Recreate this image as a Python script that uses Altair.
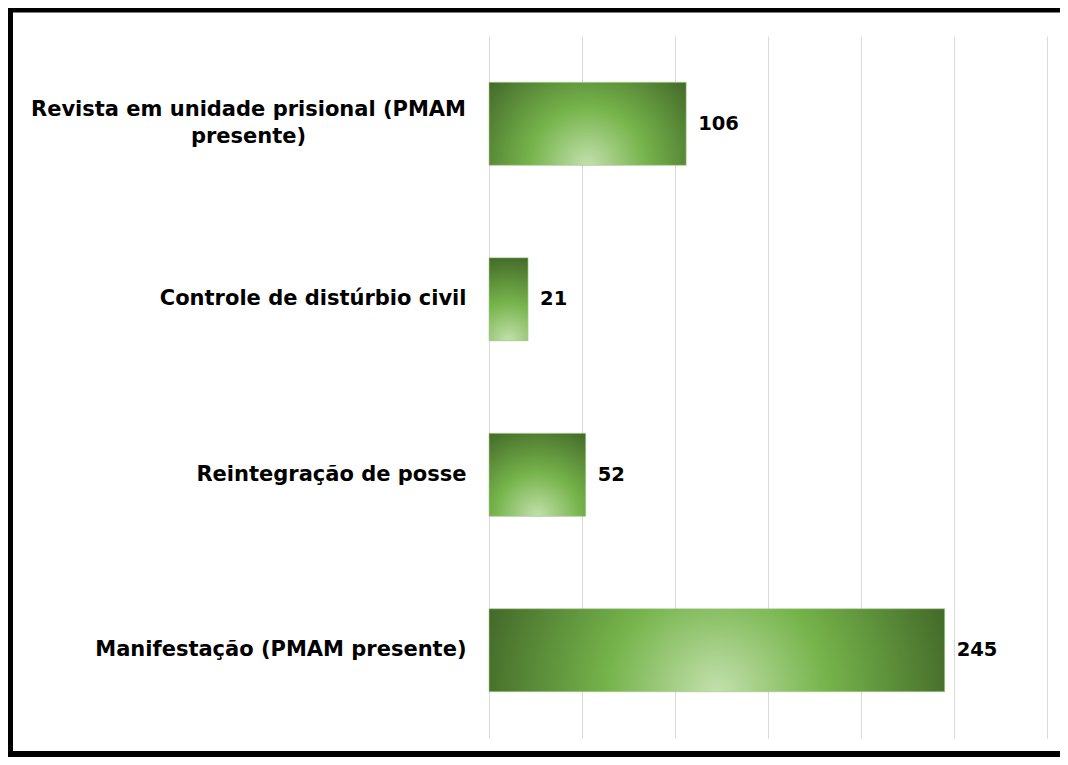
import math
import altair as alt
import pandas as pd

categories = [
    "Revista em unidade prisional (PMAM presente)",
    "Controle de distúrbio civil",
    "Reintegração de posse",
    "Manifestação (PMAM presente)",
]
values = [106, 21, 52, 245]
grid_values = [0, 50, 100, 150, 200, 250, 300]

df = pd.DataFrame({"categoria": categories, "valor": values})

W_PLOT = 558
H_PLOT = 702
X_MAX = 300
PAD_INNER = 0.527
PAD_OUTER = PAD_INNER / 2
FONT = "DejaVu Sans"

STOPS = [
    {"offset": 0.0, "color": "#c3e0ad"},
    {"offset": 0.45, "color": "#76b44b"},
    {"offset": 1.0, "color": "#436929"},
]


def radial_fill(v):
    # circular gradient centred at the bottom-centre of the bar
    step = H_PLOT / (len(categories) - PAD_INNER + 2 * PAD_OUTER)
    h = step * (1 - PAD_INNER)
    w = v / X_MAX * W_PLOT
    s = max(w, h)
    cx = 0.5
    cy = 0.5 + h / (2 * s)
    r = math.hypot(w / 2, h) / s
    return {
        "gradient": "radial",
        "x1": cx, "y1": cy, "r1": 0,
        "x2": cx, "y2": cy, "r2": r,
        "stops": STOPS,
    }


MULTI = "length(datum.label) > 35"
y_axis = alt.Axis(
    title=None,
    ticks=False,
    domain=False,
    labelFont=FONT,
    labelFontSize=21,
    labelFontWeight="bold",
    labelColor="#000000",
    labelLimit=500,
    labelLineHeight=27,
    labelBaseline="middle",
    labelAlign={"condition": {"test": MULTI, "value": "center"}, "value": "right"},
    labelPadding={"condition": {"test": MULTI, "value": 241}, "value": 23},
    labelOffset={"condition": {"test": MULTI, "value": -14}, "value": 0},
    labelExpr=MULTI + " ? [slice(datum.label, 0, 34), slice(datum.label, 35)] : datum.label",
)
y_enc = alt.Y(
    "categoria:N",
    sort=categories,
    scale=alt.Scale(paddingInner=PAD_INNER, paddingOuter=PAD_OUTER),
    axis=y_axis,
)
x_enc = alt.X(
    "valor:Q",
    scale=alt.Scale(domain=[0, X_MAX], nice=False),
    axis=alt.Axis(
        title=None, labels=False, ticks=False, domain=False,
        values=grid_values, grid=True, gridColor="#d9d9d9", gridWidth=1,
    ),
)

base = alt.Chart(df)
layers = []
for cat, v in zip(categories, values):
    layers.append(
        base.transform_filter(alt.datum.categoria == cat)
        .mark_bar(fill=radial_fill(v), stroke="#a8cc8e", strokeWidth=0.6)
        .encode(x=x_enc, y=y_enc)
    )

labels = base.mark_text(
    align="left", baseline="middle", dx=12, font=FONT, fontSize=19.5,
    fontWeight="bold", color="#000000",
).encode(x=x_enc, y=y_enc, text="valor:Q")

frame = alt.Chart(alt.Data(values=[{"k": 1}])).mark_rect(
    fillOpacity=0, stroke="#000000", strokeWidth=6
).encode(
    x=alt.value(-479), x2=alt.value(590),
    y=alt.value(-26.5), y2=alt.value(718),
)

chart = alt.layer(*layers, labels, frame).properties(
    width=W_PLOT,
    height=H_PLOT,
    autosize=alt.AutoSizeParams(type="none"),
    padding={"left": 481, "top": 28, "right": 13, "bottom": 19},
    background="#ffffff",
).configure_view(stroke="transparent")

chart.save("out.html", embed_options={"renderer": "svg", "actions": False})
